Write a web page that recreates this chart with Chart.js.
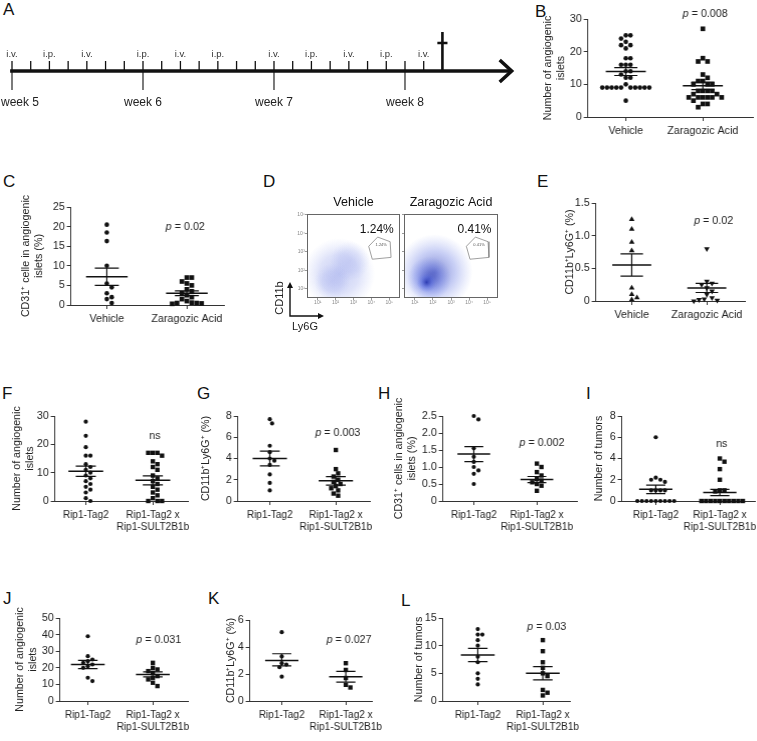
<!DOCTYPE html>
<html><head><meta charset="utf-8">
<script src="https://cdn.jsdelivr.net/npm/chart.js@4/dist/chart.umd.min.js"></script>
<style>
html,body{margin:0;padding:0;background:#fff;}
#fig{position:relative;width:757px;height:741px;overflow:hidden;background:#fff;font-family:"Liberation Sans",Arial,sans-serif;}
#fig canvas{position:absolute;}
.lab{position:absolute;font-size:17px;line-height:17px;color:#111;}
</style></head><body><div id="fig"></div>
<script>
// ================= DATA =================
// Panel A: treatment schedule (days from start of week 5)
const A_tickDays = [0,1,2,3,4,5,6,7,8,9,10,11,12,13,14,15,16,17,18,19,20,21,22];
const A_ivDays = [0,4,9,14,18,22];
const A_ipDays = [2,7,11,16,20];
const A_weekDays = [0,7,14,21];
const A_weekLabels = ['week 5','week 6','week 7','week 8'];
const A_endDay = 23;

// categories
const catsDrug = ['Vehicle','Zaragozic Acid'];
const catsTg = ['Rip1-Tag2',['Rip1-Tag2 x','Rip1-SULT2B1b']];

// B
const B_vehicle = [25,25,24,23,22,22,21,18,18,16,16,16,14,14,13,12,12,10,9,9,9,9,9,9,9,9,9,9,5];
const B_zaragozic = [27,18,17,17,13,12,11,11,10,10,10,8,8,8,8,7,7,6,6,6,6,6,6,5,4,4,3];
const B_mean = [13.9,9.6], B_semHi = [15.1,10.7], B_semLo = [12.7,8.4];
// C
const C_vehicle = [20.5,18.5,16.3,10,5.5,4.5,3,2,1.5,0.5];
const C_zaragozic = [7,7,6,5.5,5,4,3.5,3,2.5,2,1.5,1,0.6,0.5,0.5,0.4,0.3];
const C_mean = [7.2,3.0], C_semHi = [9.4,3.6], C_semLo = [5.0,2.4];
// D (flow cytometry, log10 units)
const D_titles = ['Vehicle','Zaragozic Acid'];
const D_percent = ['1.24%','0.41%'];
const D_decades = [1,2,3,4,5];
const D_gate = [{x:3.85,y:3.3},{x:4.35,y:3.8},{x:5.05,y:3.55},{x:5.1,y:2.7},{x:4.05,y:2.6},{x:3.85,y:3.3}];
const D_vehicleCloud = [{x:2.2,y:1.8,r:36},{x:2.8,y:2.5,r:20},{x:1.8,y:1.4,r:18}];
const D_vehicleAlpha = [0.36,0.2,0.2];
const D_zaragozicCloud = [{x:2.1,y:1.9,r:38},{x:1.8,y:1.55,r:22},{x:1.65,y:1.35,r:10}];
const D_zaragozicAlpha = [0.6,0.65,0.8];
// E
const E_vehicle = [1.25,1.1,0.9,0.77,0.2,0.1,0.05,0.02];
const E_zaragozic = [0.8,0.3,0.27,0.25,0.2,0.15,0.1,0.05,0.03,0.02,0.01,0];
const E_mean = [0.55,0.2], E_semHi = [0.72,0.27], E_semLo = [0.38,0.13];
// F
const F_rip = [28,23,19,16,16,13,12,11,10,9,8,7,6,5,4,3,1,0];
const F_sult = [17,17,16,17,14,13,12,11,9,8,7,6,5,4,3,2,1,0,0,0];
const F_mean = [10.5,7.3], F_semHi = [12.3,8.9], F_semLo = [8.7,5.7];
// G
const G_rip = [7.7,7.3,5.2,4.6,4.0,3.8,3.4,2.5,1.7,1.0];
const G_sult = [4.8,3.0,2.6,2.3,2.0,1.8,1.6,1.4,1.2,1.0,0.7,0.5];
const G_mean = [4.0,1.9], G_semHi = [4.7,2.3], G_semLo = [3.3,1.5];
// H
const H_rip = [2.5,2.4,1.55,1.3,1.15,1.0,0.9,0.8,0.5];
const H_sult = [1.1,1.0,0.85,0.75,0.65,0.6,0.55,0.5,0.45,0.3];
const H_mean = [1.38,0.63], H_semHi = [1.6,0.72], H_semLo = [1.16,0.54];
// I
const I_rip = [6,2.2,2,2,1.8,1,1,1,1,0,0,0,0,0,0,0,0,0];
const I_sult = [4,3.7,3,2,1,1,0.9,0,0,0,0,0,0,0,0,0,0];
const I_mean = [1.1,0.8], I_semHi = [1.5,1.1], I_semLo = [0.7,0.5];
// J
const J_rip = [39,27,25,24,23,22,21,20,14,12];
const J_sult = [23,20,19,18,17,15,14,13,11,9];
const J_mean = [22,16], J_semHi = [24.5,17.5], J_semLo = [19.5,14.5];
// K
const K_rip = [5.1,3.3,2.8,2.7,2.5,1.8];
const K_sult = [2.8,2.3,1.7,1.2,1.0];
const K_mean = [3.0,1.8], K_semHi = [3.5,2.2], K_semLo = [2.6,1.4];
// L
const L_rip = [13,12,12,11,10,8,7,5,4,3];
const L_sult = [11,9,7,6,5,4.5,2,1.5,1];
const L_mean = [8.3,5.0], L_semHi = [9.5,6.2], L_semLo = [7.1,3.8];

// ================= RENDER =================
const FONT = "'Liberation Sans', Arial, Helvetica, sans-serif";
Chart.defaults.font.family = FONT;
Chart.defaults.color = '#222';
const FIG = document.getElementById('fig');
const AX = '#333';

function mkCanvas(l,t,w,h){
  const c=document.createElement('canvas');
  c.width=w;c.height=h;
  c.style.left=l+'px';c.style.top=t+'px';c.style.width=w+'px';c.style.height=h+'px';
  FIG.appendChild(c);return c;
}
function letter(t,l,tp){const d=document.createElement('div');d.className='lab';d.textContent=t;d.style.left=l+'px';d.style.top=tp+'px';FIG.appendChild(d);}
const noPad=s=>{s.paddingLeft=0;s.paddingRight=0;s.paddingTop=0;s.paddingBottom=0;};

const baseOpts = {responsive:false,animation:false,devicePixelRatio:1,events:[]};

// ---------- panel letters ----------
[['A',3,1],['B',535,3],['C',3,173],['D',263,173],['E',537,173],['F',2,385],['G',197,385],['H',378,385],['I',586,385],['J',3,590],['K',208,590],['L',401,592]]
  .forEach(a=>letter(a[0],a[1],a[2]));

// ---------- Panel A ----------
(function(){
  const cv = mkCanvas(0,20,530,100);
  const TICK_UP=10, WEEK_DOWN=19, CROSS_H=39, BAR_Y=28, BAR_HALF=0.27, HEAD_BACK=0.64, HEAD_H=11, TIP=26.7;
  const ticks=[]; A_tickDays.forEach(d=>{ticks.push({x:d,y:0},{x:d,y:TICK_UP},{x:d,y:null});});
  const weeks=[]; A_weekDays.forEach(d=>{weeks.push({x:d,y:0},{x:d,y:-WEEK_DOWN},{x:d,y:null});});
  const cross=[{x:A_endDay,y:0},{x:A_endDay,y:CROSS_H},{x:A_endDay,y:null},{x:A_endDay-BAR_HALF,y:BAR_Y},{x:A_endDay+BAR_HALF,y:BAR_Y}];
  const head=[{x:TIP-HEAD_BACK,y:HEAD_H},{x:TIP,y:0},{x:TIP-HEAD_BACK,y:-HEAD_H}];
  const ln=(data,w)=>({data,showLine:true,pointRadius:0,borderColor:'#111',borderWidth:w,spanGaps:false,borderCapStyle:'butt',borderJoinStyle:'miter',clip:false});
  const labelPlugin={id:'alab',afterDatasetsDraw(ch){
    const c=ch.ctx,x=ch.scales.x,y=ch.scales.y;
    c.save();c.fillStyle='#333';c.textAlign='center';c.textBaseline='middle';
    c.font='9.5px '+FONT;
    A_ivDays.forEach(d=>c.fillText('i.v.',x.getPixelForValue(d),y.getPixelForValue(17)));
    A_ipDays.forEach(d=>c.fillText('i.p.',x.getPixelForValue(d),y.getPixelForValue(17)));
    c.fillStyle='#222';c.font='12px '+FONT;
    A_weekDays.forEach((d,i)=>{const w=c.measureText(A_weekLabels[i]).width;c.fillText(A_weekLabels[i],Math.max(x.getPixelForValue(d),w/2+1),y.getPixelForValue(-32));});
    c.restore();
  }};
  new Chart(cv,{type:'scatter',data:{datasets:[ln([{x:-0.1,y:0},{x:TIP-0.05,y:0}],3.5),ln(ticks,1.3),ln(weeks,1.1),ln(cross,2.6),ln(head,3.5)]},
    options:{...baseOpts,layout:{padding:0,autoPadding:false},plugins:{legend:{display:false},tooltip:{enabled:false}},
      scales:{x:{type:'linear',display:false,min:-0.6412,max:27.68},y:{display:false,min:-49,max:51}}},
    plugins:[labelPlugin]});
})();

// ---------- dot plots ----------
function swarm(vals,pxY,pxX,d){
  const order=vals.map((v,i)=>i).sort((a,b)=>vals[b]-vals[a]);
  const placed=[],off=new Array(vals.length).fill(0),s=d/2;
  order.forEach(i=>{
    const py=vals[i]*pxY;
    for(let k=0;k<120;k++){
      const o=(k===0?0:(k%2===1?Math.ceil(k/2):-k/2))*s;
      if(placed.every(p=>Math.hypot(p.px-o,p.py-py)>=d*0.97)){placed.push({px:o,py});off[i]=o/pxX;break;}
    }
  });
  return off;
}
const pPlugin={id:'ptext',afterDatasetsDraw(ch,a,o){
  if(!o||!o.text)return;
  const c=ch.ctx,px=ch.scales.x.getPixelForValue(o.x),py=ch.scales.y.getPixelForValue(o.y);
  c.save();c.fillStyle='#222';c.textBaseline='middle';c.textAlign='left';
  const fN='10.7px '+FONT,fI='italic 10.7px '+FONT;
  c.font=fI;const w1=o.italic?c.measureText(o.italic).width:0;
  c.font=fN;const w2=c.measureText(o.text).width;
  let x=px-(w1+w2)/2;
  if(o.italic){c.font=fI;c.fillText(o.italic,x,py);}
  c.font=fN;c.fillText(o.text,x+w1,py);
  c.restore();
}};

function dotPanel(P){
  const [x0,yT,x1,yB]=P.area;
  const sp=P.cx[1]-P.cx[0];
  const xmin=-(P.cx[0]-x0)/sp, xmax=xmin+(x1-x0)/sp;
  const LH=13.2, yW=x0-(P.titleX-LH/2);
  const padT=18,padR=40,xH=40;
  const cv=mkCanvas(x0-yW,yT-padT,(x1-x0)+yW+padR,(yB-yT)+padT+xH);
  const pxY=(yB-yT)/(P.y[1]-P.y[0]);
  const ds=[];
  P.series.forEach((s,i)=>{
    const off=swarm(s.data,pxY,sp,P.gap);
    ds.push({data:s.data.map((v,j)=>({x:i+off[j],y:v})),pointStyle:s.style,pointRadius:s.r,pointHoverRadius:s.r,rotation:s.rot||0,
      backgroundColor:'#111',borderColor:'#111',borderWidth:0,showLine:false,clip:false});
  });
  const MW=0.26,CW=0.15,mp=[],sp2=[];
  P.mean.forEach((m,i)=>{
    mp.push({x:i-MW,y:m},{x:i+MW,y:m},{x:i,y:null});
    sp2.push({x:i-CW,y:P.hi[i]},{x:i+CW,y:P.hi[i]},{x:i,y:null},{x:i,y:P.hi[i]},{x:i,y:P.lo[i]},{x:i,y:null},{x:i-CW,y:P.lo[i]},{x:i+CW,y:P.lo[i]},{x:i,y:null});
  });
  ds.push({data:mp,showLine:true,pointRadius:0,borderColor:'#111',borderWidth:1.5,spanGaps:false,clip:false});
  ds.push({data:sp2,showLine:true,pointRadius:0,borderColor:'#111',borderWidth:1.2,spanGaps:false,clip:false});
  const fT={size:10.7,family:FONT}, fC={size:P.fs||10.7,family:FONT};
  new Chart(cv,{type:'scatter',data:{datasets:ds},options:{...baseOpts,
    layout:{padding:{top:padT,right:padR,left:0,bottom:0},autoPadding:false},
    plugins:{legend:{display:false},tooltip:{enabled:false},ptext:P.p},
    scales:{
      x:{type:'linear',min:xmin,max:xmax,afterBuildTicks:s=>{s.ticks=P.cats.map((c,i)=>({value:i}));},
        ticks:{callback:v=>P.cats[Math.round(v)],font:fC,color:'#222',padding:4,maxRotation:0,autoSkip:false},
        grid:{drawOnChartArea:false,tickLength:4,color:AX,lineWidth:1},border:{display:true,color:AX,width:1},
        afterFit:s=>{s.height=xH;noPad(s);}},
      y:{type:'linear',min:P.y[0],max:P.y[1],
        ticks:{stepSize:P.y[2],font:fT,color:'#222',padding:2,callback:v=>P.dec?(v===0?'0':v.toFixed(P.dec)):String(v)},
        grid:{drawOnChartArea:false,tickLength:4,color:AX,lineWidth:1},border:{display:true,color:AX,width:1},
        title:{display:true,text:P.title,font:fT,color:'#222',padding:0},
        afterFit:s=>{s.width=yW;noPad(s);}}
    }},plugins:[pPlugin]});
}
const big=(d,style)=>({data:d,style,r:style==='rect'?3.3:2.3});
const sm=(d,style)=>({data:d,style,r:style==='rect'?3.1:2.1});
const titleIslets=['Number of angiogenic','islets'];

dotPanel({area:[588,19,753,117],cx:[626,703],y:[0,30,10],cats:catsDrug,series:[big(B_vehicle,'circle'),big(B_zaragozic,'rect')],
  mean:B_mean,hi:B_semHi,lo:B_semLo,title:titleIslets,titleX:549,gap:4.7,p:{italic:'p',text:' = 0.008',x:1.03,y:31.6}});
dotPanel({area:[71,207,224,305],cx:[107,187],y:[0,25,5],cats:catsDrug,series:[big(C_vehicle,'circle'),big(C_zaragozic,'rect')],
  mean:C_mean,hi:C_semHi,lo:C_semLo,title:['CD31\u207A celle in angiogenic','islets (%)'],titleX:27,gap:4.9,p:{italic:'p',text:' = 0.02',x:0.98,y:19.9}});
dotPanel({area:[596,203,745,301],cx:[632,707],y:[0,1.5,0.5],dec:1,cats:catsDrug,series:[{data:E_vehicle,style:'triangle',r:3.2},{data:E_zaragozic,style:'triangle',r:3.2,rot:180}],
  mean:E_mean,hi:E_semHi,lo:E_semLo,title:'CD11b\u207ALy6G\u207A (%)',titleX:571,gap:5.2,p:{italic:'p',text:' = 0.02',x:1.09,y:1.22}});
dotPanel({area:[55,416,188,501],cx:[86,153],y:[0,30,10],fs:10,cats:catsTg,series:[sm(F_rip,'circle'),sm(F_sult,'rect')],
  mean:F_mean,hi:F_semHi,lo:F_semLo,title:titleIslets,titleX:18,gap:4.6,p:{text:'ns',x:1.03,y:23}});
dotPanel({area:[238,416,370,501],cx:[270,336],y:[0,8,2],fs:10,cats:catsTg,series:[sm(G_rip,'circle'),sm(G_sult,'rect')],
  mean:G_mean,hi:G_semHi,lo:G_semLo,title:'CD11b\u207ALy6G\u207A (%)',titleX:207,gap:4.6,p:{italic:'p',text:' = 0.003',x:1.03,y:6.4}});
dotPanel({area:[443,416,577,501],cx:[474,537],y:[0,2.5,0.5],dec:1,fs:10,cats:catsTg,series:[sm(H_rip,'circle'),sm(H_sult,'rect')],
  mean:H_mean,hi:H_semHi,lo:H_semLo,title:['CD31\u207A cells in angiogenic','islets (%)'],titleX:400,gap:4.6,p:{italic:'p',text:' = 0.002',x:1.08,y:1.7}});
dotPanel({area:[622,416,755,501],cx:[656,720],y:[0,8,2],fs:10,cats:catsTg,series:[sm(I_rip,'circle'),sm(I_sult,'rect')],
  mean:I_mean,hi:I_semHi,lo:I_semLo,title:'Number of tumors',titleX:600,gap:4.6,p:{text:'ns',x:1.03,y:5.4}});
dotPanel({area:[60,618,188,701],cx:[88,153],y:[0,50,10],fs:10,cats:catsTg,series:[sm(J_rip,'circle'),sm(J_sult,'rect')],
  mean:J_mean,hi:J_semHi,lo:J_semLo,title:titleIslets,titleX:21,gap:4.6,p:{italic:'p',text:' = 0.031',x:1.09,y:36.7}});
dotPanel({area:[250,620,372,701],cx:[282,346],y:[0,6,2],fs:10,cats:catsTg,series:[sm(K_rip,'circle'),sm(K_sult,'rect')],
  mean:K_mean,hi:K_semHi,lo:K_semLo,title:'CD11b\u207ALy6G\u207A (%)',titleX:232,gap:4.6,p:{italic:'p',text:' = 0.027',x:1.05,y:4.5}});
dotPanel({area:[443,618,570,701],cx:[478,543],y:[0,15,5],fs:10,cats:catsTg,series:[sm(L_rip,'circle'),sm(L_sult,'rect')],
  mean:L_mean,hi:L_semHi,lo:L_semLo,title:'Number of tumors',titleX:420,gap:4.6,p:{italic:'p',text:' = 0.03',x:1.06,y:13.4}});

// ---------- Panel D (flow plots) ----------
const SUP=['\u2070','\u00B9','\u00B2','\u00B3','\u2074','\u2075'];
function cloudFill(alpha,core){
  return ctx=>{
    const fallback=`rgba(${core},0.2)`;
    if(ctx.type!=='data'||!ctx.raw)return fallback;
    const ch=ctx.chart,d=ctx.raw,a=alpha[ctx.dataIndex];
    const xs=ch.scales&&ch.scales.x, ys=ch.scales&&ch.scales.y;
    if(!xs||!ys)return fallback;
    const px=xs.getPixelForValue(d.x),py=ys.getPixelForValue(d.y);
    if(!isFinite(px)||!isFinite(py)||!(d.r>0))return fallback;
    const g=ch.ctx.createRadialGradient(px,py,0,px,py,d.r);
    g.addColorStop(0,`rgba(${core},${a})`);
    g.addColorStop(0.55,`rgba(90,110,225,${a*0.55})`);
    g.addColorStop(1,'rgba(120,140,235,0)');
    return g;
  };
}
function flowPanel(idx,canvasRect,pad,yW,showYLabels,cloud,alpha,core,withArrows){
  const [l,t,w,h]=canvasRect;
  const cv=mkCanvas(l,t,w,h);
  const deco={id:'fdeco',afterDatasetsDraw(ch){
    const c=ch.ctx,a=ch.chartArea,x=ch.scales.x,y=ch.scales.y;
    c.save();
    c.strokeStyle='#666';c.lineWidth=1;c.strokeRect(a.left+0.5,a.top+0.5,a.right-a.left-1,a.bottom-a.top-1);
    c.fillStyle='#111';c.textAlign='center';c.textBaseline='middle';
    c.font='12.5px '+FONT;c.fillText(D_titles[idx],(a.left+a.right)/2,a.top-11);
    c.font='12px '+FONT;c.fillText(D_percent[idx],x.getPixelForValue(4.3),a.top+16);
    c.font='4px '+FONT;c.fillStyle='#555';c.fillText(D_percent[idx],x.getPixelForValue(4.55),y.getPixelForValue(3.4));
    if(withArrows){
      const cx0=a.left-17,cy0=a.bottom+18;
      c.strokeStyle='#111';c.fillStyle='#111';c.lineWidth=1.4;
      c.beginPath();c.moveTo(cx0,cy0-31);c.lineTo(cx0,cy0);c.lineTo(cx0+31,cy0);c.stroke();
      c.beginPath();c.moveTo(cx0,cy0-34);c.lineTo(cx0-3,cy0-28);c.lineTo(cx0+3,cy0-28);c.closePath();c.fill();
      c.beginPath();c.moveTo(cx0+34,cy0);c.lineTo(cx0+28,cy0-3);c.lineTo(cx0+28,cy0+3);c.closePath();c.fill();
      c.font='11px '+FONT;c.fillStyle='#222';
      c.fillText('Ly6G',cx0+15,cy0+11);
      c.translate(cx0-10,cy0-18);c.rotate(-Math.PI/2);c.fillText('CD11b',0,0);
    }
    c.restore();
  }};
  const tickCfg=(show)=>({display:show,font:{size:5,family:FONT},color:'#888',padding:0,callback:v=>Number.isInteger(v)&&v>=1?'10'+SUP[v]:''});
  new Chart(cv,{type:'bubble',data:{datasets:[
      {type:'bubble',data:cloud,backgroundColor:cloudFill(alpha,core),borderWidth:0},
      {type:'line',data:D_gate,borderColor:'#888',borderWidth:0.8,pointRadius:0,fill:false}
    ]},
    options:{...baseOpts,layout:{padding:pad,autoPadding:false},plugins:{legend:{display:false},tooltip:{enabled:false}},
      scales:{
        x:{type:'linear',min:0.4,max:5.6,afterBuildTicks:s=>{s.ticks=D_decades.map(v=>({value:v}));},ticks:tickCfg(true),
          grid:{drawOnChartArea:false,tickLength:2,color:'#999'},border:{display:false},afterFit:s=>{s.height=8;noPad(s);}},
        y:{type:'linear',min:0.5,max:5.05,afterBuildTicks:s=>{s.ticks=D_decades.map(v=>({value:v}));},ticks:tickCfg(showYLabels),
          grid:{drawOnChartArea:false,tickLength:2,color:'#999'},border:{display:false},afterFit:s=>{s.width=yW;noPad(s);}}
      }},plugins:[deco]});
}
flowPanel(0,[262,185,140,155],{left:35,top:29,right:2,bottom:34},10,true,D_vehicleCloud,D_vehicleAlpha,'110,125,225',true);
flowPanel(1,[402,185,105,150],{left:0,top:29,right:9,bottom:29},2,false,D_zaragozicCloud,D_zaragozicAlpha,'30,45,170',false);
</script></body></html>
